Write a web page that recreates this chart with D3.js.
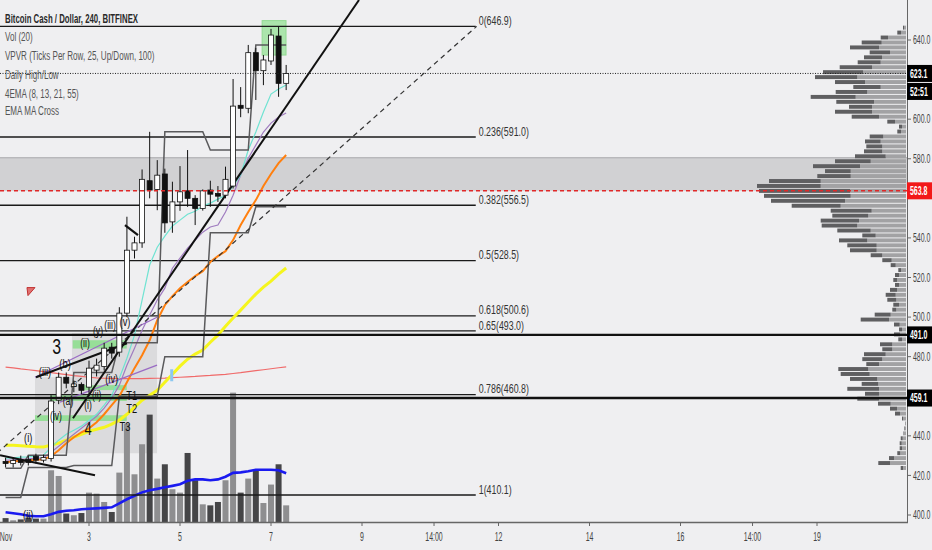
<!DOCTYPE html>
<html><head><meta charset="utf-8">
<script src="https://cdn.jsdelivr.net/npm/d3@7/dist/d3.min.js"></script>
<style>html,body{margin:0;padding:0;background:#efeff1;}svg{display:block;font-family:"Liberation Sans",Arial,sans-serif;}</style>
</head><body><svg id="c" width="932" height="550"></svg>
<script>
// ---------------- DATA ----------------
const candleTimes = ["11-01 04:00","11-01 08:00","11-01 12:00","11-01 16:00","11-01 20:00",
 "11-02 00:00","11-02 04:00","11-02 08:00","11-02 12:00","11-02 16:00","11-02 20:00",
 "11-03 00:00","11-03 04:00","11-03 08:00","11-03 12:00","11-03 16:00","11-03 20:00",
 "11-04 00:00","11-04 04:00","11-04 08:00","11-04 12:00","11-04 16:00","11-04 20:00",
 "11-05 00:00","11-05 04:00","11-05 08:00","11-05 12:00","11-05 16:00","11-05 20:00",
 "11-06 00:00","11-06 04:00","11-06 08:00","11-06 12:00","11-06 16:00","11-06 20:00",
 "11-07 00:00","11-07 04:00","11-07 08:00"];
const openP  = [427,426,427.5,428,429.7,427.7,428.5,458,469.6,465,466,464.6,473.2,475,484.8,482.3,502,533.8,537.5,568.9,564.5,572.3,548.1,558.2,563.8,560,554.9,564.2,562.5,561.6,566.2,607,605.5,633.6,624.5,629.4,642,618.1];
const highP  = [429,429,430,430,431,430.5,460.5,472,472,468,467,478,479,487,487,505,550.7,540.6,574.6,593.6,579.3,575,568.4,576.3,584.4,561.6,564.5,568.9,566.2,576,620.3,616.2,637.5,636,632.4,645.6,646.7,627.4];
const lowP   = [424,424,425,425,426,426.5,427,456,464,462,461,460,470,473,479,480,500,529.6,535,560,554,542.6,542.6,553.7,555.7,546.5,553.8,555.7,558.2,560,565,601,603,609.7,617.2,627.4,611.3,614.7];
const closeP = [426,427.5,426.5,426.5,427.7,429,457.6,469.6,466.6,466.2,463,474.2,475.7,484.3,481.8,502,533.8,537.5,569.6,564.2,571.7,547.6,558.2,563.3,560,554.9,563.8,562.1,561.1,569.6,606.6,605.5,633.6,624.5,629.9,642.5,618.1,623.1];
const volume = [3,1.3,2,3.4,2.6,2.6,39.8,35.4,6.5,5.2,6.9,22.6,21.8,15.4,7.7,38,75.7,36.7,59.8,82.6,33.4,44.4,25.2,22.6,53.1,32.1,13.6,12.8,15.4,32.1,99.5,22.6,33.4,40.3,14.6,28.8,44.4,12.8];
const volMA  = [7.5,6.7,5.9,4.8,4.4,4.4,5.9,7.8,8.6,9,9.8,10.2,10.5,10.9,11.3,14.4,17.5,20.2,22.8,24.4,25.5,26.7,27.8,29,31.7,32.8,32.8,32.1,32.8,34.8,37.8,38.2,39,40.2,40.2,40.2,39.8,37.5];
const ema8   = [428.7,428.9,429.2,429.4,429.7,430.2,434.2,437.8,440.8,442.8,444.9,447.9,450.9,455.5,460.5,469.1,479.2,490.9,508.6,526.3,535.3,540.9,546.0,549.0,552.0,553.5,556.1,557.6,559.6,561.6,566.2,571.8,584.4,593.5,603.6,612.7,615.2,617.3];
const ema13  = [427.7,427.9,428.2,428.4,428.7,428.9,431.7,434.7,437.8,440.8,443.8,446.9,449.9,454.0,459.0,465.6,475.7,484.3,493.4,501.0,508.6,514.6,524.7,529.8,534.8,538.9,542.9,545.5,546.5,553.1,561.6,571.8,580.3,586.9,593.5,598.0,601.1,603.1];
const ema21  = [426.7,427.2,427.4,427.7,427.9,428.2,429.7,432.7,436.3,439.3,441.8,443.8,446.9,450.9,455.5,460.0,467.1,474.2,480.7,488.3,498.4,506.0,510.6,514.6,517.7,520.7,523.2,527.8,530.8,533.3,538.9,546.5,553.1,559.1,566.2,572.3,577.8,581.9];
const ema55  = [435.3,435.3,435.0,434.7,434.5,434.4,435.3,436.3,437.8,439.3,440.8,442.3,443.3,444.3,445.9,447.9,450.9,454.5,458.0,460.5,463.0,467.1,471.1,475.2,478.7,481.3,483.3,487.3,490.9,495.4,499.5,503.5,507.6,511.6,515.1,518.2,521.7,524.8];
const maCross= [474.7,474.3,473.8,473.4,472.9,472.4,471.9,471.4,470.9,470.4,470.0,469.6,469.3,469.1,469.0,468.9,468.9,468.9,468.9,469.0,469.1,469.2,469.4,469.6,469.8,470.0,470.3,470.5,470.8,471.1,471.5,471.9,472.4,472.9,473.4,473.9,474.4,474.8];
const dailyHigh = [423.6,423.6,423.6,430.2,430.2,430.2,430.2,430.2,430.2,472,472,472,472,472,472,487,487,487,487,487,487,593.6,593.6,593.6,593.6,593.6,593.6,584.4,584.4,584.4,584.4,584.4,584.4,637.5,637.5,637.5,637.5,637.5];
const dailyLow  = [408.9,408.9,408.9,424,424,424,424,424,424,425,425,425,425,425,425,460,460,460,460,460,460,480,480,480,480,480,480,542.6,542.6,542.6,542.6,542.6,542.6,555.7,555.7,555.7,555.7,555.7];

// Volume profile (VPVR) rows: row centre price, down volume (dark), up volume (light)
const vpRowPrice = [646.25,643.75,641.25,638.75,636.25,633.75,631.25,628.75,626.25,623.75,621.25,618.75,616.25,613.75,611.25,608.75,606.25,603.75,601.25,598.75,596.25,593.75,591.25,588.75,586.25,583.75,581.25,578.75,576.25,573.75,571.25,568.75,566.25,563.75,561.25,558.75,556.25,553.75,551.25,548.75,546.25,543.75,541.25,538.75,536.25,533.75,531.25,528.75,526.25,523.75,521.25,518.75,516.25,513.75,511.25,508.75,506.25,503.75,501.25,498.75,496.25,493.75,491.25,488.75,486.25,483.75,481.25,478.75,476.25,473.75,471.25,468.75,466.25,463.75,461.25,458.75,456.25,453.75,451.25,448.75,446.25,443.75,441.25,438.75,436.25,433.75,431.25,428.75,426.25,423.75];
const vpDown = [1,3.7,7.3,20,29,20.3,18,23,32.3,40,42.3,30,27.4,31.6,45,37.7,23,37,27.3,7.7,3,3.7,13.6,15.7,16,18.3,30.7,35.7,47,25.7,33.4,51.7,63.7,91,86.7,74,49,41,36,38.3,35.6,33.4,13.4,28.3,29.4,26.7,11.6,9.4,5,2.7,4,3.7,4,7,10,9,5.7,4,16,28.3,5.7,3,6,3.7,12.3,10,21.7,20,12.7,30,29,27.3,16.6,31.7,14,21.7,12.7,7,5,1,0,0.5,0,2,2,2.3,3,5,11.7,2.3];
const vpUp   = [2,5,18,24.3,27,16,24,25.3,34,43,48.7,41,25.3,38.7,50.3,32,34,34,27,11,4,5,22.7,25.3,23.7,23.7,20.3,35.3,46,55.3,55.3,85.3,85.3,56,55.3,61,65.3,34.3,37.7,47,48.7,35.3,30.3,38.7,29.3,29.3,23.7,14.3,10.3,5,7,9,7,9,10.3,9.7,7,9.7,15.3,17,6.3,4,6,4,13.7,13.7,20.3,23.7,27,37.7,36.3,28.7,27.7,27,27,27,15.3,9,6,3,1,1.5,3,3.3,4.3,4,5.7,12,16,3];

const fibRatios = [0,0.236,0.382,0.5,0.618,0.65,0.786,1];
const fibPrices = [646.9,591.0,556.5,528.5,500.6,493.0,460.8,410.1];
const fibEndDay = 11.5;

const priceTicks = [400,420,440,460,480,500,520,540,560,580,600,620,640];
const timeTickDays = [1,3,5,7,9,10.583,12,14,16,17.583,19];
const timeTickLabels = ["Nov","3","5","7","9","14:00","12","14","16","14:00","19"];

const legendLines = ["Bitcoin Cash / Dollar, 240, BITFINEX","Vol (20)","VPVR (Ticks Per Row, 25, Up/Down, 100)","Daily High/Low","4EMA (8, 13, 21, 55)","EMA MA Cross"];

// drawings: [day, price]
const trendSolid = [[2.648,448.9],[8.934,660.2]];
const trendDashed = [[-0.055,410.1],[11.52,646.9]];
const blackLines = [[[1.044,430.2],[3.132,420.1]],[[1.835,469.6],[3.835,486.8]],[[3.791,546.5],[4.077,541.4]]];
const purpleLines = [[[1.813,469.6],[4.495,499.9]],[[2.363,457.0],[4.495,475.7]]];
const greyZone = [580.5,563.8];
const shadeBoxes = [[1.813,4.495,469.6,431.2],[2.626,4.495,491.9,469.6]];
const greenBars = [[2.642,3.829,488.3,484.1],[2.802,3.829,465.6,463.1],[2.143,3.829,460.5,457.6],[1.813,3.829,450.4,447.5]];
const greenTop = [6.805,7.33,649.8,632.4];
const waveLabels = [
 [1.664,439.4,"(i)",13],[1.664,400.4,"(ii)",13],[2.033,472.3,"(iii)",13],[2.473,476.5,"(b)",13],
 [2.29,485,"3",22],[2.538,457.5,"(a)",12],[2.275,449.9,"(iv)",12],[2.912,486.8,"(ii)",12],
 [3.198,492.9,"(y)",12],[3.462,495.9,"(iii)",12],[3.791,497.6,"(v)",13],[3.499,469,"(iv)",13],
 [2.978,455.5,"(i)",12],[2.978,443.8,"4",18],[2.692,466.6,"c",11],[3.169,460.5,"(ii)",12],
 [3.938,460.5,"T1",13],[3.938,453.9,"T2",13],[3.791,444.5,"T3",13]];

const lastPrice = 623.1, countdown = "52:51", alertPrice = 563.8;
const levelLines = [491.0, 459.1];

// ---------------- CHART ----------------
const svg = d3.select("#c");
const PR = 907, PB = 522, SX = 0.62;
const x = d3.scaleLinear().domain([3,19]).range([89,817]);
const y = d3.scaleLinear().domain([400,640]).range([515,40]);
const yV = d3.scaleLinear().domain([0,100]).range([PB,392]);
const wP = d3.scaleLinear().domain([0,150]).range([0,150]);
const tDay = s => { const [md,hm]=s.split(" "); const [h,m]=hm.split(":"); return +md.split("-")[1] + (+h + +m/60)/24; };
const T = candleTimes.map(tDay);
const idx = d3.range(candleTimes.length);

function txt(g,x0,y0,s,o={}){
  const t=g.append("text").attr("transform",`translate(${x0},${y0}) scale(${o.sx||SX},1)`)
   .attr("font-size",o.size||12).attr("fill",o.fill||"#333").attr("text-anchor",o.anchor||"start")
   .attr("dy",o.dy||"0.35em").text(s);
  if(o.weight) t.attr("font-weight",o.weight);
  return t;
}

svg.append("rect").attr("width",932).attr("height",550).attr("fill","#efeff1");
svg.append("defs").append("clipPath").attr("id","pc").append("rect").attr("x",0).attr("y",0).attr("width",PR).attr("height",PB);
const g = svg.append("g").attr("clip-path","url(#pc)");

// grey zone
g.append("rect").attr("x",0).attr("width",PR).attr("y",y(greyZone[0])).attr("height",y(greyZone[1])-y(greyZone[0])).attr("fill","#d1d1d3");
g.append("line").attr("x1",0).attr("x2",PR).attr("y1",y(greyZone[0])).attr("y2",y(greyZone[0])).attr("stroke","#a9a9ab").attr("stroke-width",1);

// shaded boxes
shadeBoxes.forEach(b=>g.append("rect").attr("x",x(b[0])).attr("width",x(b[1])-x(b[0])).attr("y",y(b[2])).attr("height",y(b[3])-y(b[2])).attr("fill","#c8c8ca").attr("opacity",0.5));
greenBars.forEach(b=>g.append("rect").attr("x",x(b[0])).attr("width",x(b[1])-x(b[0])).attr("y",y(b[2])).attr("height",y(b[3])-y(b[2])).attr("fill","#5fe05f").attr("opacity",0.55));
g.append("rect").attr("x",x(greenTop[0])).attr("width",x(greenTop[1])-x(greenTop[0])).attr("y",y(greenTop[2])).attr("height",y(greenTop[3])-y(greenTop[2])).attr("fill","#7fe07f").attr("opacity",0.6).attr("stroke","#5c5");

// VPVR
const rowH = Math.abs(y(vpRowPrice[0])-y(vpRowPrice[1]));
vpRowPrice.forEach((p,i)=>{
  const yc=y(p), up=wP(vpUp[i]), dn=wP(vpDown[i]);
  g.append("rect").attr("x",PR-1-up).attr("width",up).attr("y",yc-rowH/2+0.5).attr("height",rowH-1).attr("fill","#a2a2a4");
  g.append("rect").attr("x",PR-1-up-dn).attr("width",dn).attr("y",yc-rowH/2+0.5).attr("height",rowH-1).attr("fill","#5f5f61");
});

// volume
idx.forEach(i=>{
  const up = closeP[i]>=openP[i];
  g.append("rect").attr("x",x(T[i])-3).attr("width",6).attr("y",yV(volume[i])).attr("height",PB-yV(volume[i])).attr("fill",up?"#8e8e90":"#454547");
});
g.append("path").datum(idx).attr("fill","none").attr("stroke","#1a1af0").attr("stroke-width",2.6)
 .attr("d",d3.line().x(i=>x(T[i])).y(i=>yV(volMA[i])));

// fib lines
fibPrices.forEach((p,i)=>{
  g.append("line").attr("x1",0).attr("x2",x(fibEndDay)).attr("y1",y(p)).attr("y2",y(p)).attr("stroke","#1a1a1a").attr("stroke-width",1.3);
  txt(g,x(fibEndDay)+3,y(p)-6,`${fibRatios[i]}(${p.toFixed(1)})`,{size:13,fill:"#333",sx:0.68});
});

// EMA lines
const lineGen = arr => d3.line().x(i=>x(T[i])).y(i=>y(arr[i]));
[[maCross,"#f06a6a",1.2],[ema55,"#f5f51e",3],[ema21,"#ff7f0e",2],[ema13,"#a07cc0",1.2],[ema8,"#6fe3d2",1.2]].forEach(([a,c,w])=>{
  g.append("path").datum(idx).attr("fill","none").attr("stroke",c).attr("stroke-width",w).attr("d",lineGen(a));
});

// daily high/low
[dailyHigh,dailyLow].forEach(a=>g.append("path").datum(idx).attr("fill","none").attr("stroke","#5a5a5c").attr("stroke-width",1.5).attr("d",lineGen(a)));

// trendlines
const seg = (pts,c,w,dash)=>{const l=g.append("line").attr("x1",x(pts[0][0])).attr("y1",y(pts[0][1])).attr("x2",x(pts[1][0])).attr("y2",y(pts[1][1])).attr("stroke",c).attr("stroke-width",w); if(dash) l.attr("stroke-dasharray",dash);};
seg(trendDashed,"#333",1.2,"5,4");
purpleLines.forEach(p=>seg(p,"#9a6cc4",1.3));
blackLines.forEach(p=>seg(p,"#111",2.2));
seg(trendSolid,"#111",2);

// candles
idx.forEach(i=>{
  const cx=x(T[i]), up=closeP[i]>=openP[i];
  g.append("line").attr("x1",cx).attr("x2",cx).attr("y1",y(highP[i])).attr("y2",y(lowP[i])).attr("stroke","#111").attr("stroke-width",1);
  const yt=y(Math.max(openP[i],closeP[i])), yb=y(Math.min(openP[i],closeP[i]));
  g.append("rect").attr("x",cx-2.5).attr("width",5).attr("y",yt).attr("height",Math.max(1,yb-yt))
   .attr("fill",up?"#ffffff":"#111").attr("stroke","#111").attr("stroke-width",0.8);
});

// wave labels
waveLabels.forEach(([d,p,t,s])=>txt(g,x(d),y(p),t,{size:s,fill:"#111",anchor:"middle",sx:0.72}));
// markers
const fx=x(1.637), fy=y(514.9);
g.append("path").attr("d",`M${fx},${fy}L${fx+8},${fy}L${fx+1},${fy+8}Z`).attr("fill","#e07070").attr("stroke","#c03030");
g.append("rect").attr("x",x(4.818)-1.5).attr("y",y(470.6)-6).attr("width",3).attr("height",12).attr("fill","#8cc8f0");

// horizontal full lines
g.append("line").attr("x1",0).attr("x2",PR).attr("y1",y(lastPrice)).attr("y2",y(lastPrice)).attr("stroke","#222").attr("stroke-width",1).attr("stroke-dasharray","1,1.5");
g.append("line").attr("x1",0).attr("x2",PR).attr("y1",y(alertPrice)).attr("y2",y(alertPrice)).attr("stroke","#e02828").attr("stroke-width",1.4).attr("stroke-dasharray","4,3");
levelLines.forEach(p=>g.append("line").attr("x1",0).attr("x2",PR).attr("y1",y(p)).attr("y2",y(p)).attr("stroke","#111").attr("stroke-width",2.4));

// legend
legendLines.forEach((s,i)=>txt(svg,5,[18.5,36.7,55,74,93.3,110.7][i],s,{size:13,fill:i?"#555":"#2a2a2a",weight:i?null:"bold",sx:i?0.62:0.6}));

// price boxes (centres) used to hide covered tick labels
const boxes = [[y(lastPrice),lastPrice.toFixed(1),"#000"],[y(lastPrice)+18,countdown,"#000"],[y(alertPrice),alertPrice.toFixed(1),"#f21818"]]
  .concat(levelLines.map(p=>[y(p),p.toFixed(1),"#000"]));

// axes
svg.append("line").attr("x1",PR+0.5).attr("x2",PR+0.5).attr("y1",0).attr("y2",PB).attr("stroke","#666").attr("stroke-width",1);
svg.append("line").attr("x1",0).attr("x2",PR+1).attr("y1",PB+0.5).attr("y2",PB+0.5).attr("stroke","#666").attr("stroke-width",1.5);
priceTicks.forEach(p=>{
  svg.append("line").attr("x1",PR).attr("x2",PR+4).attr("y1",y(p)).attr("y2",y(p)).attr("stroke","#666");
  if(boxes.some(b=>Math.abs(b[0]-y(p))<16)) return;
  txt(svg,PR+6,y(p),p.toFixed(1),{size:12,fill:"#444",sx:0.58});
});
timeTickDays.forEach((d,i)=>{
  svg.append("line").attr("x1",x(d)).attr("x2",x(d)).attr("y1",PB).attr("y2",PB+4).attr("stroke","#666");
  const xx = Math.max(x(d), 6);
  txt(svg,xx,537,timeTickLabels[i],{size:12,fill:"#444",anchor:"middle",sx:0.58});
});

boxes.forEach(([yc,s,c])=>{
  svg.append("rect").attr("x",PR).attr("y",yc-8.5).attr("width",932-PR).attr("height",17).attr("fill",c);
  txt(svg,PR+3,yc,s,{size:12,fill:"#fff",sx:0.58,weight:"bold"});
});
</script></body></html>
